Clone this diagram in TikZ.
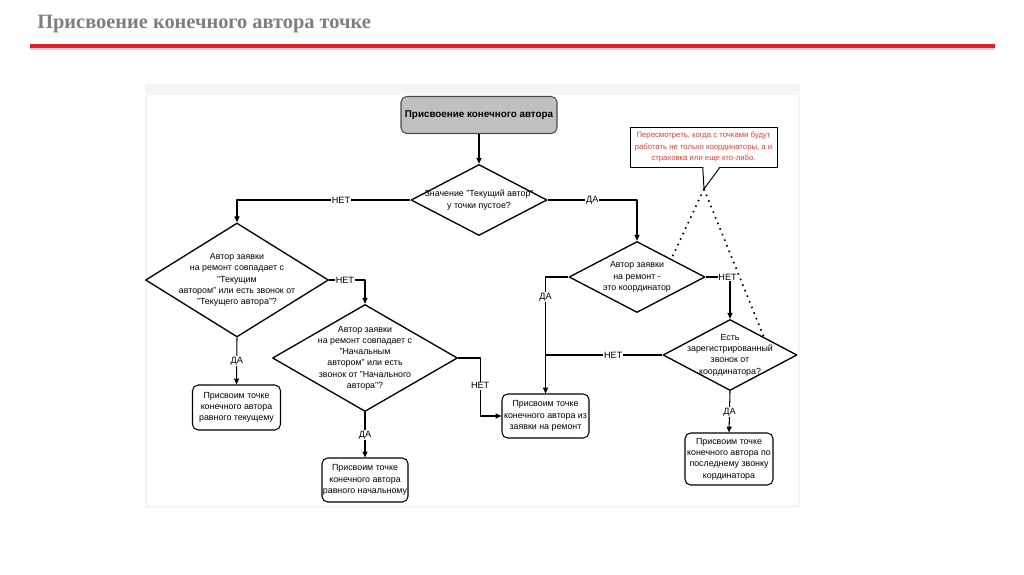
\documentclass[tikz,border=0pt]{standalone}
\usepackage{fontspec}
\setmainfont{Liberation Sans}
\newfontfamily\titlefont{Liberation Serif}
\usetikzlibrary{shapes.geometric,arrows.meta,calc}
\newcommand\pxu{0.025cm}
\definecolor{titlegray}{HTML}{7F7F7F}
\definecolor{slidered}{HTML}{E31E24}
\definecolor{notered}{HTML}{E0402F}
\definecolor{startgray}{HTML}{C0C0C0}
\begin{document}
\begin{tikzpicture}[x=\pxu,y=-\pxu,line join=round,
  line/.style={line width=0.75pt},
  flow/.style={line,-{Triangle[length=4.2pt,width=3.6pt]}},
  dtext/.style={font=\fontsize{6.3}{8}\selectfont,align=center},
  decision/.style={diamond,draw,line width=0.95pt,inner sep=0pt},
  endbox/.style={draw,rounded corners=4pt,line width=0.75pt,inner sep=0pt,dtext},
  lbl/.style={font=\fontsize{6.5}{7}\selectfont,fill=white,inner sep=0.6pt}]
% slide frame
\useasboundingbox (0,0) rectangle (1024,574);
\fill[white] (0,0) rectangle (1024,574);
\node[anchor=base west,inner sep=0pt,font=\titlefont\fontsize{14.5}{16}\selectfont\bfseries,text=titlegray] (title) at (37,28) {Присвоение конечного автора точке};
\draw[line width=2.2pt,gray!35] (30,48.5) -- (995,48.5);
\draw[line width=2.4pt,slidered] (30,46) -- (995,46);
\fill[black!4] (145,84) rectangle (800,508);
\fill[white] (147,95) rectangle (798,505);

% start and questions
\node[draw=black!70,fill=startgray,rounded corners=4pt,line width=0.75pt,minimum width=156*\pxu,minimum height=37*\pxu,inner sep=0pt,font=\fontsize{7}{8}\selectfont\bfseries] (start) at (479,115) {Присвоение конечного автора};
\node[decision,minimum width=136*\pxu,minimum height=71*\pxu,label={[dtext]center:{Значение "Текущий автор"\\у точки пустое?}}] (d1) at (479,200) {};
\node[decision,minimum width=183*\pxu,minimum height=114*\pxu,label={[dtext]center:{Автор заявки\\на ремонт совпадает с\\"Текущим\\автором" или есть звонок от\\"Текущего автора"?}}] (d2) at (237,280) {};
\node[decision,minimum width=185*\pxu,minimum height=107*\pxu,label={[dtext]center:{Автор заявки\\на ремонт совпадает с\\"Начальным\\автором" или есть\\звонок от "Начального\\автора"?}}] (d3) at (365,358) {};
\node[decision,minimum width=136*\pxu,minimum height=71*\pxu,label={[dtext]center:{Автор заявки\\на ремонт -\\это координатор}}] (d4) at (637,277) {};
\node[decision,minimum width=134*\pxu,minimum height=71*\pxu,label={[dtext]center:{Есть\\зарегистрированный\\звонок от\\координатора?}}] (d5) at (730,355) {};

% results
\node[endbox,minimum width=88*\pxu,minimum height=45*\pxu] (b1) at (236.5,407.5) {Присвоим точке\\конечного автора\\равного текущему};
\node[endbox,minimum width=86*\pxu,minimum height=44*\pxu] (b2) at (365,480) {Присвоим точке\\конечного автора\\равного начальному};
\node[endbox,minimum width=87*\pxu,minimum height=44*\pxu] (b3) at (545.5,416) {Присвоим точке\\конечного автора из\\заявки на ремонт};
\node[endbox,minimum width=88*\pxu,minimum height=52*\pxu] (b4) at (729,459) {Присвоим точке\\конечного автора по\\последнему звонку\\кординатора};

% connectors
\draw[flow] (start) -- (d1);
\draw[flow] (d1.west) -| node[lbl,pos=0.2] {НЕТ} (d2.north);
\draw[flow] (d1.east) -| node[lbl,pos=0.25] {ДА} (d4.north);
\draw[flow] (d2.east) -| node[lbl,pos=0.22] {НЕТ} (d3.north);
\draw[flow] (d2.south) -- node[lbl] {ДА} (b1.north);
\draw[flow] (d3.east) -- ++(22,0) |- node[lbl,pos=0.24] {НЕТ} (b3.west);
\draw[flow] (d3.south) -- node[lbl] {ДА} (b2.north);
\draw[flow] (d4.west) -| node[lbl,pos=0.585] {ДА} (b3.north);
\draw[flow] (d4.east) -| node[lbl,pos=0.45] {НЕТ} (d5.north);
\draw[line] (d5.west) -- node[lbl,pos=0.42] {НЕТ} (d5.west -| b3.north);
\draw[flow] (d5.south) -- node[lbl] {ДА} (b4.north);

% callout
\node[draw,line width=0.7pt,minimum width=147*\pxu,minimum height=40*\pxu,inner sep=0pt,align=center,text=notered,font=\fontsize{5.5}{8.3}\selectfont] (note) at (703.5,147) {Пересмотреть, когда с точками будут\\работать не только координаторы, а и\\страховка или еще кто-либо.};
\coordinate (tip) at (704,189);
\filldraw[fill=white,line width=0.7pt] ($(note.south west)!0.495!(note.south east)$) -- (tip) -- ($(note.south west)!0.61!(note.south east)$);
\fill[white] ($(note.south west)!0.5!(note.south east)+(0,-0.5)$) rectangle ($(note.south west)!0.6!(note.south east)+(0,1)$);
\draw[line width=1.2pt,dash pattern=on 1.1pt off 3.2pt] (tip) -- (d4.north east);
\draw[line width=1.2pt,dash pattern=on 1.1pt off 3.2pt] (tip) -- (d5.north east);
\end{tikzpicture}
\end{document}
